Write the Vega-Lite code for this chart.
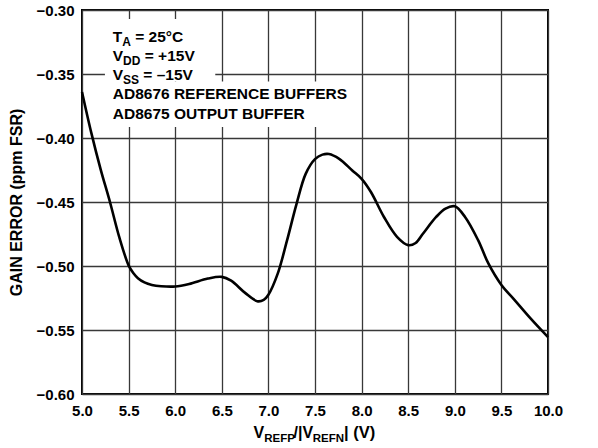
{
  "$schema": "https://vega.github.io/schema/vega-lite/v6.json",
  "width": 466,
  "height": 384,
  "autosize": "none",
  "padding": {"left": 82, "top": 10, "right": 50, "bottom": 54},
  "background": "white",
  "config": {
    "view": {"stroke": "black", "strokeWidth": 2},
    "font": "Liberation Sans",
    "axis": {
      "grid": true,
      "gridColor": "#383838",
      "gridWidth": 1.3,
      "gridOpacity": 1,
      "domain": false,
      "ticks": false,
      "labelFont": "Liberation Sans",
      "labelFontWeight": "bold",
      "labelFontSize": 15,
      "labelColor": "black",
      "titleFont": "Liberation Sans",
      "titleFontWeight": "bold",
      "titleColor": "black"
    }
  },
  "datasets": {
    "curve": [
      {"v": 5.0, "g": -0.364},
      {"v": 5.1, "g": -0.396},
      {"v": 5.2, "g": -0.4245},
      {"v": 5.3, "g": -0.450},
      {"v": 5.4, "g": -0.4775},
      {"v": 5.5, "g": -0.4995},
      {"v": 5.55, "g": -0.5055},
      {"v": 5.6, "g": -0.5095},
      {"v": 5.67, "g": -0.5128},
      {"v": 5.75, "g": -0.5148},
      {"v": 5.85, "g": -0.5158},
      {"v": 6.0, "g": -0.5160},
      {"v": 6.15, "g": -0.5140},
      {"v": 6.35, "g": -0.5098},
      {"v": 6.5, "g": -0.5085},
      {"v": 6.6, "g": -0.5115},
      {"v": 6.75, "g": -0.5210},
      {"v": 6.88, "g": -0.5275},
      {"v": 6.95, "g": -0.5265},
      {"v": 7.0, "g": -0.5225},
      {"v": 7.1, "g": -0.5060},
      {"v": 7.2, "g": -0.480},
      {"v": 7.3, "g": -0.452},
      {"v": 7.4, "g": -0.428},
      {"v": 7.5, "g": -0.4165},
      {"v": 7.58, "g": -0.4130},
      {"v": 7.65, "g": -0.4125},
      {"v": 7.76, "g": -0.4163},
      {"v": 7.9, "g": -0.4254},
      {"v": 8.0, "g": -0.4319},
      {"v": 8.1, "g": -0.4422},
      {"v": 8.24, "g": -0.4617},
      {"v": 8.38, "g": -0.4772},
      {"v": 8.5, "g": -0.4837},
      {"v": 8.58, "g": -0.4820},
      {"v": 8.66, "g": -0.4746},
      {"v": 8.8, "g": -0.4617},
      {"v": 8.9, "g": -0.4552},
      {"v": 9.0, "g": -0.4534},
      {"v": 9.11, "g": -0.4617},
      {"v": 9.25, "g": -0.4798},
      {"v": 9.36, "g": -0.4980},
      {"v": 9.5, "g": -0.5148},
      {"v": 9.64, "g": -0.5264},
      {"v": 9.81, "g": -0.5407},
      {"v": 10.0, "g": -0.5555}
    ],
    "box": [
      {"x1": 5.246, "x2": 6.43, "y1": -0.307, "y2": -0.3559},
      {"x1": 5.246, "x2": 7.87, "y1": -0.3559, "y2": -0.3914}
    ]
  },
  "layer": [
    {
      "data": {"name": "curve"},
      "mark": {"type": "line", "color": "black", "strokeWidth": 2.6, "interpolate": "catmull-rom"},
      "encoding": {
        "x": {
          "field": "v", "type": "quantitative",
          "scale": {"domain": [5, 10], "nice": false, "zero": false},
          "axis": {"values": [5, 5.5, 6, 6.5, 7, 7.5, 8, 8.5, 9, 9.5, 10], "format": ".1f", "labelPadding": 9, "title": null, "labelFlush": false}
        },
        "y": {
          "field": "g", "type": "quantitative",
          "scale": {"domain": [-0.6, -0.3], "nice": false, "zero": false},
          "axis": {
            "values": [-0.6, -0.55, -0.5, -0.45, -0.4, -0.35, -0.3],
            "labelExpr": "replace(format(datum.value, '.2f'), '-', '–')",
            "labelPadding": 8,
            "labelFlush": false,
            "title": "GAIN ERROR (ppm FSR)",
            "titleFontSize": 16,
            "titleAngle": -90,
            "titleBaseline": "middle",
            "titleAlign": "center",
            "titleX": -66,
            "titleY": 192
          }
        }
      }
    },
    {
      "data": {"name": "box"},
      "mark": {"type": "rect", "color": "white", "opacity": 1},
      "encoding": {
        "x": {"field": "x1", "type": "quantitative"},
        "x2": {"field": "x2"},
        "y": {"field": "y1", "type": "quantitative"},
        "y2": {"field": "y2"}
      }
    },
    {
      "data": {"values": [{}]},
      "mark": {"type": "text", "text": "T", "fontWeight": "bold", "fontSize": 15.5, "align": "left", "baseline": "alphabetic", "color": "black"},
      "encoding": {"x": {"datum": 5.33}, "y": {"datum": -0.3248}}
    },
    {
      "data": {"values": [{}]},
      "mark": {"type": "text", "text": "A", "fontWeight": "bold", "fontSize": 12, "align": "left", "baseline": "alphabetic", "dx": 9.5, "dy": 4, "color": "black"},
      "encoding": {"x": {"datum": 5.33}, "y": {"datum": -0.3248}}
    },
    {
      "data": {"values": [{}]},
      "mark": {"type": "text", "text": "= 25°C", "fontWeight": "bold", "fontSize": 15.5, "align": "left", "baseline": "alphabetic", "dx": 22.5, "color": "black"},
      "encoding": {"x": {"datum": 5.33}, "y": {"datum": -0.3248}}
    },
    {
      "data": {"values": [{}]},
      "mark": {"type": "text", "text": "V", "fontWeight": "bold", "fontSize": 15.5, "align": "left", "baseline": "alphabetic", "dy": 19.2, "color": "black"},
      "encoding": {"x": {"datum": 5.33}, "y": {"datum": -0.3248}}
    },
    {
      "data": {"values": [{}]},
      "mark": {"type": "text", "text": "DD", "fontWeight": "bold", "fontSize": 12, "align": "left", "baseline": "alphabetic", "dx": 10.3, "dy": 23.2, "color": "black"},
      "encoding": {"x": {"datum": 5.33}, "y": {"datum": -0.3248}}
    },
    {
      "data": {"values": [{}]},
      "mark": {"type": "text", "text": "= +15V", "fontWeight": "bold", "fontSize": 15.5, "align": "left", "baseline": "alphabetic", "dx": 32.0, "dy": 19.2, "color": "black"},
      "encoding": {"x": {"datum": 5.33}, "y": {"datum": -0.3248}}
    },
    {
      "data": {"values": [{}]},
      "mark": {"type": "text", "text": "V", "fontWeight": "bold", "fontSize": 15.5, "align": "left", "baseline": "alphabetic", "dy": 38.4, "color": "black"},
      "encoding": {"x": {"datum": 5.33}, "y": {"datum": -0.3248}}
    },
    {
      "data": {"values": [{}]},
      "mark": {"type": "text", "text": "SS", "fontWeight": "bold", "fontSize": 12, "align": "left", "baseline": "alphabetic", "dx": 10.3, "dy": 41.9, "color": "black"},
      "encoding": {"x": {"datum": 5.33}, "y": {"datum": -0.3248}}
    },
    {
      "data": {"values": [{}]},
      "mark": {"type": "text", "text": "= –15V", "fontWeight": "bold", "fontSize": 15.5, "align": "left", "baseline": "alphabetic", "dx": 30.6, "dy": 38.4, "color": "black"},
      "encoding": {"x": {"datum": 5.33}, "y": {"datum": -0.3248}}
    },
    {
      "data": {"values": [{}]},
      "mark": {"type": "text", "text": "AD8676 REFERENCE BUFFERS", "fontWeight": "bold", "fontSize": 15.5, "align": "left", "baseline": "alphabetic", "dy": 57.6, "color": "black"},
      "encoding": {"x": {"datum": 5.33}, "y": {"datum": -0.3248}}
    },
    {
      "data": {"values": [{}]},
      "mark": {"type": "text", "text": "AD8675 OUTPUT BUFFER", "fontWeight": "bold", "fontSize": 15.5, "align": "left", "baseline": "alphabetic", "dy": 76.8, "color": "black"},
      "encoding": {"x": {"datum": 5.33}, "y": {"datum": -0.3248}}
    },
    {
      "data": {"values": [{}]},
      "mark": {"type": "text", "text": "V", "fontWeight": "bold", "fontSize": 16, "align": "left", "baseline": "alphabetic", "dx": -61.5, "dy": 44, "color": "black"},
      "encoding": {"x": {"datum": 7.5}, "y": {"datum": -0.6}}
    },
    {
      "data": {"values": [{}]},
      "mark": {"type": "text", "text": "REFP", "fontWeight": "bold", "fontSize": 11.5, "align": "left", "baseline": "alphabetic", "dx": -50.8, "dy": 47.5, "color": "black"},
      "encoding": {"x": {"datum": 7.5}, "y": {"datum": -0.6}}
    },
    {
      "data": {"values": [{}]},
      "mark": {"type": "text", "text": "/|V", "fontWeight": "bold", "fontSize": 16, "align": "left", "baseline": "alphabetic", "dx": -21.5, "dy": 44, "color": "black"},
      "encoding": {"x": {"datum": 7.5}, "y": {"datum": -0.6}}
    },
    {
      "data": {"values": [{}]},
      "mark": {"type": "text", "text": "REFN", "fontWeight": "bold", "fontSize": 11.5, "align": "left", "baseline": "alphabetic", "dx": -2.2, "dy": 47.5, "color": "black"},
      "encoding": {"x": {"datum": 7.5}, "y": {"datum": -0.6}}
    },
    {
      "data": {"values": [{}]},
      "mark": {"type": "text", "text": "| (V)", "fontWeight": "bold", "fontSize": 16.5, "align": "left", "baseline": "alphabetic", "dx": 29, "dy": 44, "color": "black"},
      "encoding": {"x": {"datum": 7.5}, "y": {"datum": -0.6}}
    }
  ]
}
